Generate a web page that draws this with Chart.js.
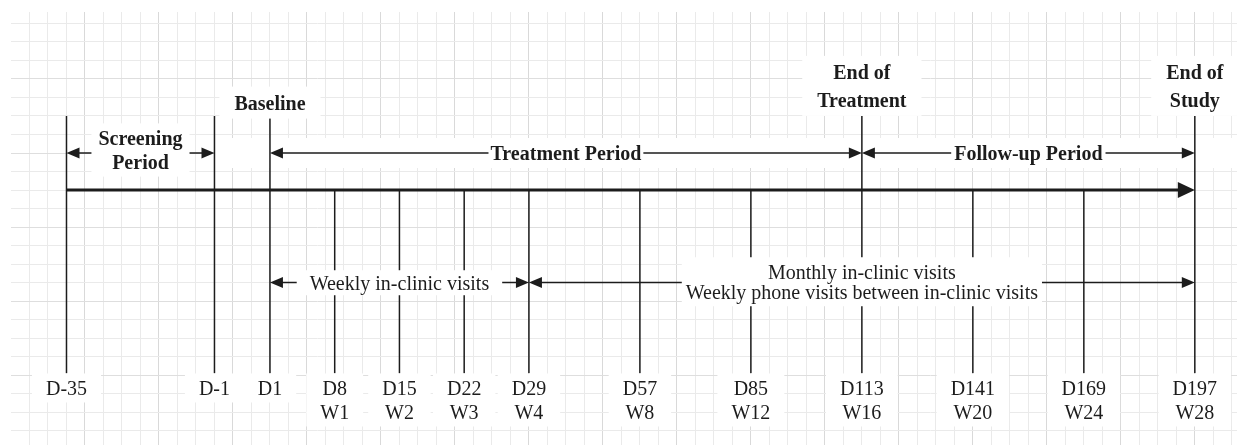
<!DOCTYPE html>
<html>
<head>
<meta charset="utf-8">
<script src="https://cdn.jsdelivr.net/npm/chart.js@4.4.1/dist/chart.umd.min.js"></script>
<style>
html, body { margin: 0; padding: 0; background: #fff; }
#wrap { width: 1237px; height: 445px; position: relative; }
</style>
</head>
<body>
<div id="wrap"><canvas id="timeline"></canvas></div>
<script>
// study visits, left to right
const visitDays = ["D-35", "D-1", "D1", "D8", "D15", "D22", "D29", "D57", "D85", "D113", "D141", "D169", "D197"]
const visitWeeks = ["", "", "", "W1", "W2", "W3", "W4", "W8", "W12", "W16", "W20", "W24", "W28"]
// where each visit sits on the drawing, counted in grid cells
const visitPos = [3, 11, 14, 17.5, 21, 24.5, 28, 34, 40, 46, 52, 58, 64]
// milestone visits get a taller line that reaches the period arrows
const visitTop = [-4, -4, -4, 0, 0, 0, 0, 0, 0, -4, 0, 0, -4]

const milestoneLabels = [["Baseline"], ["End of", "Treatment"], ["End of", "Study"]]
const milestoneVisit = [2, 9, 12]

const periodLabels = [["Screening", "Period"], ["Treatment Period"], ["Follow-up Period"]]
const periodFrom = [0, 2, 9]
const periodTo = [1, 9, 12]

const scheduleLabels = [["Weekly in-clinic visits"], ["Monthly in-clinic visits", "Weekly phone visits between in-clinic visits"]]
const scheduleFrom = [2, 6]
const scheduleTo = [6, 12]

// rows of the drawing (grid cells, downwards from the time axis)
const AXIS_Y = 0
const PERIOD_Y = -2
const SCHEDULE_Y = 5
const LINE_BOTTOM = 9.9
const MILESTONE_Y = -4.87
const DAY_TOP = 10.05

const INK = "#1c1c1c"
const BOLD = 'bold 20px "Liberation Serif", "Times New Roman", serif'
const PLAIN = '20px "Liberation Serif", "Times New Roman", serif'
const TEXT_DY = 1.8   // "middle" baseline sits a little high for this font

const px = (chart, v) => chart.scales.x.getPixelForValue(v)
const py = (chart, v) => chart.scales.y.getPixelForValue(v)

const arrowHead = (ctx, x, y, dir, len, half) => {
    ctx.beginPath()
    ctx.moveTo(x, y)
    ctx.lineTo(x - dir * len, y - half)
    ctx.lineTo(x - dir * len, y + half)
    ctx.closePath()
    ctx.fill()
}

// white box with text on it, cy is the middle of the first line
const label = (ctx, lines, cx, cy, lh, padX, padY) => {
    const w = Math.max(...lines.map(l => ctx.measureText(l).width))
    ctx.fillStyle = "#fff"
    ctx.fillRect(cx - w / 2 - padX, cy - lh / 2 - padY, w + 2 * padX, lines.length * lh + 2 * padY)
    ctx.fillStyle = INK
    lines.forEach((l, i) => ctx.fillText(l, cx, cy + i * lh + TEXT_DY))
}

const doubleArrow = (ctx, x1, x2, y) => {
    ctx.beginPath()
    ctx.moveTo(x1 + 4, y)
    ctx.lineTo(x2 - 4, y)
    ctx.stroke()
    arrowHead(ctx, x1, y, -1, 13, 5.5)
    arrowHead(ctx, x2, y, 1, 13, 5.5)
}

const decor = {
    id: "decor",
    beforeDatasetsDraw(chart) {
        const ctx = chart.ctx
        const area = chart.chartArea
        const y = py(chart, PERIOD_Y)
        ctx.save()
        ctx.fillStyle = "#fff"
        ctx.fillRect(px(chart, visitPos[periodTo[0]]), y - 15, area.right - px(chart, visitPos[periodTo[0]]), 30)
        ctx.restore()
    },
    afterDatasetsDraw(chart) {
        const ctx = chart.ctx
        ctx.save()
        ctx.strokeStyle = INK
        ctx.fillStyle = INK
        ctx.lineWidth = 1.5
        ctx.textAlign = "center"
        ctx.textBaseline = "middle"

        // arrow head of the time axis
        const last = visitPos[visitPos.length - 1]
        arrowHead(ctx, px(chart, last), py(chart, AXIS_Y), 1, 17, 8)

        // study periods
        const periodPad = [7, 2, 3]
        ctx.font = BOLD
        periodLabels.forEach((lines, i) => {
            const x1 = px(chart, visitPos[periodFrom[i]])
            const x2 = px(chart, visitPos[periodTo[i]])
            const y = py(chart, PERIOD_Y)
            ctx.fillStyle = INK
            doubleArrow(ctx, x1, x2, y)
            const lh = 24.6
            const cy = y - (lines.length - 1) * (lh / 2 + 3)
            label(ctx, lines, (x1 + x2) / 2, cy, lh, periodPad[i], 2)
        })

        // visit schedule
        const schedulePad = [13, 4]
        const schedulePadY = [2.5, 4.5]
        const scheduleDY = [0.2, -0.8]
        ctx.font = PLAIN
        scheduleLabels.forEach((lines, i) => {
            const x1 = px(chart, visitPos[scheduleFrom[i]])
            const x2 = px(chart, visitPos[scheduleTo[i]])
            const y = py(chart, SCHEDULE_Y)
            ctx.fillStyle = INK
            doubleArrow(ctx, x1, x2, y)
            const lh = 20
            label(ctx, lines, (x1 + x2) / 2, y + scheduleDY[i] - (lines.length - 1) * lh / 2, lh, schedulePad[i], schedulePadY[i])
        })

        // milestones above the axis
        ctx.font = BOLD
        milestoneLabels.forEach((lines, i) => {
            const cx = px(chart, visitPos[milestoneVisit[i]])
            const lh = 28
            const cy = py(chart, MILESTONE_Y) - (lines.length - 1) * lh + (lines.length === 1 ? 2.7 : 0)
            label(ctx, lines, cx, cy, lh, 15, 2)
        })

        // day / week under each line
        ctx.font = PLAIN
        visitDays.forEach((d, i) => {
            const lines = visitWeeks[i] ? [d, visitWeeks[i]] : [d]
            const lh = 24
            label(ctx, lines, px(chart, visitPos[i]), py(chart, DAY_TOP) + lh / 2, lh, 14, 2.5)
        })
        ctx.restore()
    }
}

const cellTicks = scale => {
    const ticks = []
    for (let v = Math.ceil(scale.min); v <= Math.floor(scale.max); v++) {
        if (v !== scale.min) ticks.push({ value: v })
    }
    scale.ticks = ticks
}

const visitLines = visitPos.map((x, i) => ({
    data: [{ x: x, y: visitTop[i] }, { x: x, y: LINE_BOTTOM }],
    showLine: true,
    borderColor: INK,
    borderWidth: 1.5,
    pointRadius: 0
}))

const timeAxis = {
    data: [{ x: visitPos[0], y: AXIS_Y }, { x: visitPos[visitPos.length - 1] - 0.6, y: AXIS_Y }],
    showLine: true,
    borderColor: INK,
    borderWidth: 3,
    pointRadius: 0
}

new Chart(document.getElementById("timeline"), {
    type: "scatter",
    data: { datasets: [...visitLines, timeAxis] },
    options: {
        responsive: true,
        maintainAspectRatio: false,
        animation: false,
        layout: { padding: { left: 11, top: 12, right: 0, bottom: 0 } },
        plugins: { legend: { display: false }, tooltip: { enabled: false } },
        scales: {
            x: {
                type: "linear",
                min: 0,
                max: 66.28,
                afterBuildTicks: cellTicks,
                ticks: { display: false },
                border: { display: false },
                grid: {
                    drawTicks: false,
                    color: c => c.tick.value % 4 === 0 ? "#d9d9d9" : "#eaeaea"
                }
            },
            y: {
                type: "linear",
                reverse: true,
                min: -9.62,
                max: 13.78,
                afterBuildTicks: cellTicks,
                ticks: { display: false },
                border: { display: false },
                grid: {
                    drawTicks: false,
                    color: c => ((c.tick.value % 4) + 4) % 4 === 2 ? "#dedede" : "#eaeaea"
                }
            }
        }
    },
    plugins: [decor]
})
</script>
</body>
</html>
